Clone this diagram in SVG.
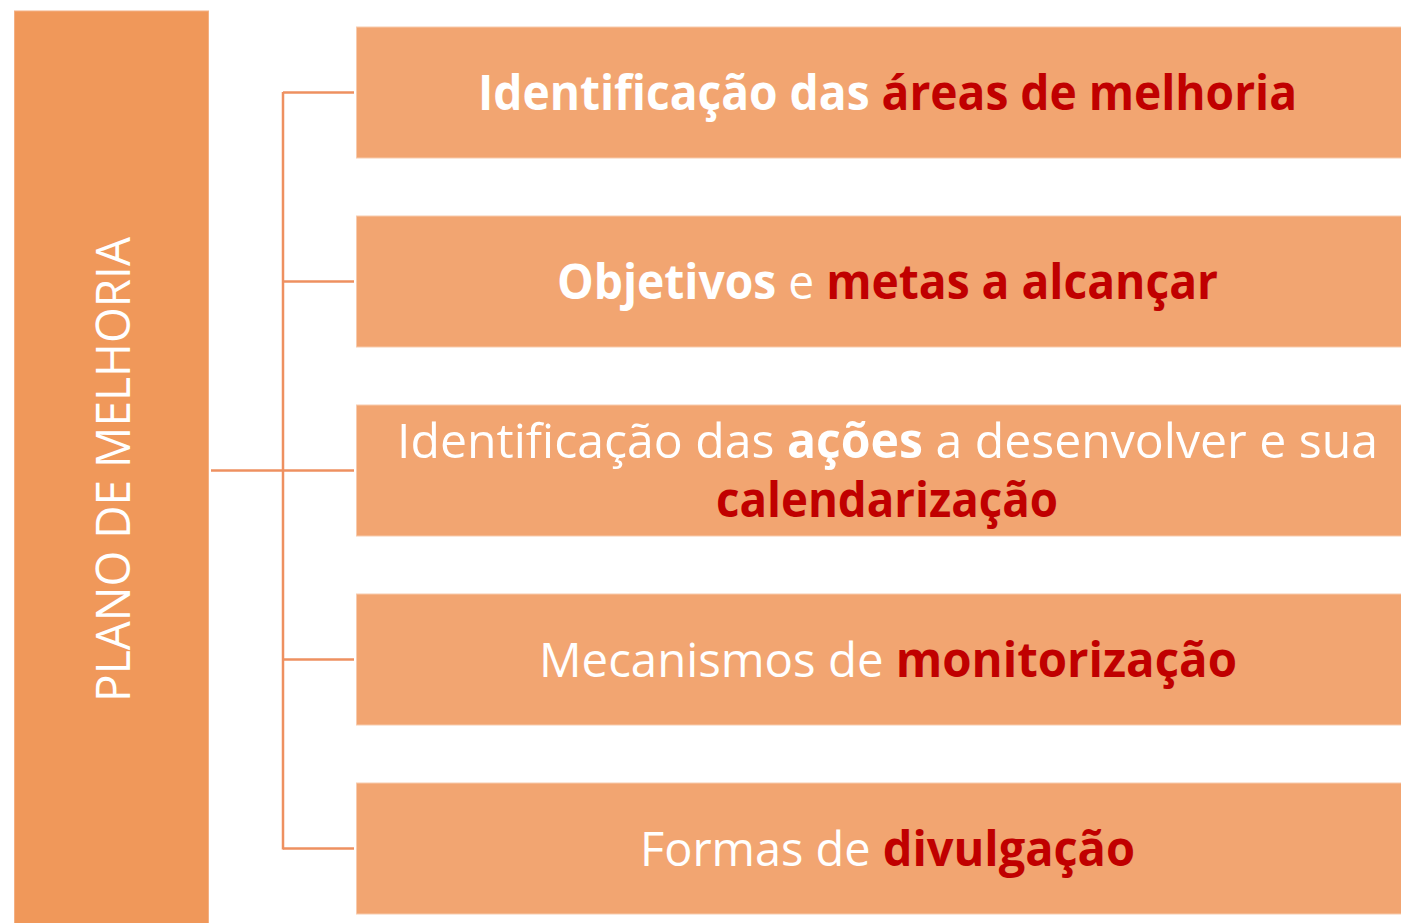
<svg xmlns="http://www.w3.org/2000/svg" width="1401" height="923" viewBox="0 0 1401 923">
<style>
.main{fill:#F0985A;stroke:#F4B083;stroke-width:1}
.box{fill:#F2A571;stroke:#F8CBAD;stroke-width:1}
.t{font-family:"Open Sans","Liberation Sans",sans-serif;font-size:48px;fill:#FFFFFF}
.b{font-weight:bold}
.r{fill:#C00000;font-weight:bold}
.conn{stroke:#EE9060;stroke-width:2.5;fill:none}
</style>
<rect width="1401" height="923" fill="#FFFFFF"/>
<g id="connectors">
<line class="conn" x1="211" y1="470.5" x2="283" y2="470.5"/>
<line class="conn" x1="283" y1="92" x2="283" y2="849.5"/>
<line class="conn" x1="283" y1="92.5" x2="354" y2="92.5"/>
<line class="conn" x1="283" y1="281.5" x2="354" y2="281.5"/>
<line class="conn" x1="283" y1="470.5" x2="354" y2="470.5"/>
<line class="conn" x1="283" y1="659.5" x2="354" y2="659.5"/>
<line class="conn" x1="283" y1="848.5" x2="354" y2="848.5"/>
</g>
<g id="plano">
<rect class="main" x="14.5" y="11" width="194" height="913"/>
<text class="t" transform="translate(130,469.5) rotate(-90)" text-anchor="middle" textLength="465" lengthAdjust="spacingAndGlyphs">PLANO DE MELHORIA</text>
</g>
<g id="n1">
<rect class="box" x="356.5" y="27" width="1046" height="131"/>
<text class="t" x="478" y="110" textLength="819" lengthAdjust="spacingAndGlyphs"><tspan class="b">Identificação das </tspan><tspan class="r">áreas de melhoria</tspan></text>
</g>
<g id="n2">
<rect class="box" x="356.5" y="216" width="1046" height="131"/>
<text class="t" x="557" y="299" textLength="661" lengthAdjust="spacingAndGlyphs"><tspan class="b">Objetivos</tspan> e <tspan class="r">metas a alcançar</tspan></text>
</g>
<g id="n3">
<rect class="box" x="356.5" y="405" width="1046" height="131"/>
<text class="t" x="397" y="458" textLength="981" lengthAdjust="spacingAndGlyphs">Identificação das <tspan class="b">ações</tspan> a desenvolver e sua</text>
<text class="t" x="716" y="517" textLength="342" lengthAdjust="spacingAndGlyphs"><tspan class="r">calendarização</tspan></text>
</g>
<g id="n4">
<rect class="box" x="356.5" y="594" width="1046" height="131"/>
<text class="t" x="539" y="677" textLength="698" lengthAdjust="spacingAndGlyphs">Mecanismos de <tspan class="r">monitorização</tspan></text>
</g>
<g id="n5">
<rect class="box" x="356.5" y="783" width="1046" height="131"/>
<text class="t" x="640" y="866" textLength="495" lengthAdjust="spacingAndGlyphs">Formas de <tspan class="r">divulgação</tspan></text>
</g>
</svg>
